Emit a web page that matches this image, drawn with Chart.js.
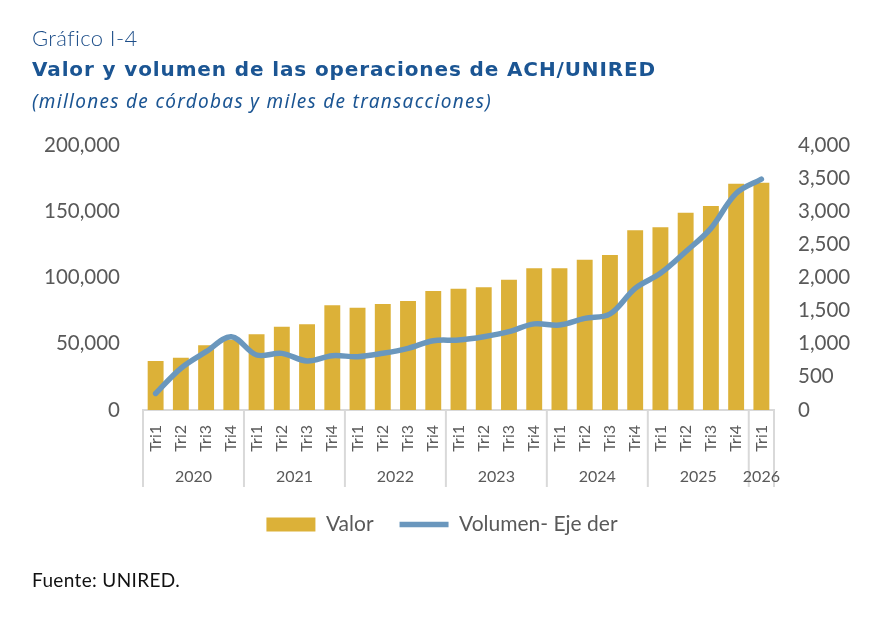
<!DOCTYPE html>
<html>
<head>
<meta charset="utf-8">
<script src="https://cdn.jsdelivr.net/npm/chart.js@4.4.1/dist/chart.umd.min.js"></script>
<style>
  html, body { margin: 0; padding: 0; background: #ffffff; }
  #wrap { position: relative; width: 884px; height: 626px; overflow: hidden; background: #fff; }
  #chart { position: absolute; left: 0; top: 0; }
  .txt { position: absolute; left: 32px; white-space: nowrap; }
  #t0 { top: 24px; font: 300 22px "Lato", sans-serif; color: #1d4e89; }
  #t1 { top: 57px; font: 700 20px "DejaVu Sans", sans-serif; color: #1b5593; }
  #t2 { top: 88px; font: italic 400 19px "Noto Sans", sans-serif; color: #1b5593; }
  #src { top: 568px; font: 400 19px "Lato", sans-serif; color: #111; }
</style>
</head>
<body>
<div id="wrap">
  <canvas id="chart" width="884" height="626"></canvas>
  <div class="txt" id="t0" data-w="105">Gráfico I-4</div>
  <div class="txt" id="t1" data-w="624">Valor y volumen de las operaciones de ACH/UNIRED</div>
  <div class="txt" id="t2" data-w="460">(millones de córdobas y miles de transacciones)</div>
  <div class="txt" id="src" data-w="148">Fuente: UNIRED.</div>
</div>
<script>
// ---- data ----
const categories = ['Tri1','Tri2','Tri3','Tri4','Tri1','Tri2','Tri3','Tri4','Tri1','Tri2','Tri3','Tri4',
                    'Tri1','Tri2','Tri3','Tri4','Tri1','Tri2','Tri3','Tri4','Tri1','Tri2','Tri3','Tri4','Tri1'];
const categoryYears = ['2020','2020','2020','2020','2021','2021','2021','2021','2022','2022','2022','2022',
                       '2023','2023','2023','2023','2024','2024','2024','2024','2025','2025','2025','2025','2026'];
const valor = [37000, 39500, 48800, 53000, 57100, 62900, 64700, 79000, 77200, 80000, 82300, 89800,
               91500, 92600, 98300, 106900, 106900, 113400, 117000, 135600, 137900, 148900, 154000, 170800, 171500];
const volumen = [250, 630, 880, 1106, 830, 855, 740, 820, 805, 856, 931, 1046,
                 1056, 1106, 1182, 1300, 1283, 1383, 1449, 1836, 2063, 2389, 2742, 3270, 3486];
const leftTicks = [0, 50000, 100000, 150000, 200000];
const rightTicks = [0, 500, 1000, 1500, 2000, 2500, 3000, 3500, 4000];
const seriesNames = ['Valor', 'Volumen- Eje der'];

// fit header texts to their widths
document.querySelectorAll('.txt').forEach(el => {
  const target = +el.dataset.w;
  const w = el.getBoundingClientRect().width;
  const n = el.textContent.length;
  el.style.letterSpacing = ((target - w) / n) + 'px';
});

const grey = '#595959';
const sepColor = '#d9d9d9';

const yearGroups = {
  id: 'yearGroups',
  afterDraw(chart) {
    const xs = chart.scales.x;
    const ca = chart.chartArea;
    const ctx = chart.ctx;
    const n = categories.length;
    const bounds = [xs.left];
    for (let i = 1; i < n; i++) {
      if (categoryYears[i] !== categoryYears[i - 1]) {
        bounds.push((xs.getPixelForValue(i - 1) + xs.getPixelForValue(i)) / 2);
      }
    }
    bounds.push(xs.right);
    ctx.save();
    ctx.strokeStyle = sepColor;
    ctx.lineWidth = 2;
    bounds.forEach(x => {
      ctx.beginPath();
      ctx.moveTo(x, ca.bottom);
      ctx.lineTo(x, ca.bottom + 77);
      ctx.stroke();
    });
    const uniq = [...new Set(categoryYears)];
    ctx.fillStyle = grey;
    ctx.font = '16px Lato, sans-serif';
    ctx.textAlign = 'center';
    ctx.textBaseline = 'middle';
    uniq.forEach((y, k) => {
      const cx = (bounds[k] + bounds[k + 1]) / 2;
      ctx.fillText(y, cx, ca.bottom + 67);
    });
    ctx.restore();
  }
};

new Chart(document.getElementById('chart'), {
  type: 'bar',
  data: {
    labels: categories,
    datasets: [
      {
        type: 'bar',
        label: seriesNames[0],
        data: valor,
        backgroundColor: '#dcb138',
        borderWidth: 0,
        barPercentage: 0.63,
        categoryPercentage: 1,
        yAxisID: 'y',
        order: 2,
        pointStyle: 'rect'
      },
      {
        type: 'line',
        label: seriesNames[1],
        data: volumen,
        borderColor: '#6a97bd',
        backgroundColor: '#6a97bd',
        borderWidth: 5.5,
        borderCapStyle: 'round',
        borderJoinStyle: 'round',
        pointRadius: 0,
        pointHoverRadius: 0,
        tension: 0.35,
        yAxisID: 'y1',
        order: 1,
        pointStyle: 'line'
      }
    ]
  },
  options: {
    responsive: false,
    animation: false,
    devicePixelRatio: 1,
    layout: { padding: { top: 145, left: 0, right: 0, bottom: 81 } },
    plugins: {
      tooltip: { enabled: false },
      legend: {
        position: 'bottom',
        labels: {
          usePointStyle: true,
          pointStyleWidth: 49,
          boxHeight: 14,
          padding: 26,
          color: grey,
          font: { family: 'Lato, sans-serif', size: 21 },
          sort: (a, b) => a.datasetIndex - b.datasetIndex
        }
      }
    },
    scales: {
      x: {
        grid: { display: false, drawTicks: false },
        border: { display: true, color: sepColor, width: 2 },
        ticks: {
          autoSkip: false,
          minRotation: 90,
          maxRotation: 90,
          padding: 15,
          color: grey,
          font: { family: 'Lato, sans-serif', size: 16 }
        },
        afterFit(s) { s.height = 78; }
      },
      y: {
        position: 'left',
        min: 0, max: 200000,
        afterBuildTicks(s) { s.ticks = leftTicks.map(v => ({ value: v })); },
        grid: { display: false, drawTicks: false },
        border: { display: false },
        ticks: {
          padding: 23,
          color: grey,
          font: { family: 'Lato, sans-serif', size: 20.5 },
          callback: v => v.toLocaleString('en-US')
        },
        afterFit(s) { s.width = 143; }
      },
      y1: {
        position: 'right',
        min: 0, max: 4000,
        afterBuildTicks(s) { s.ticks = rightTicks.map(v => ({ value: v })); },
        grid: { display: false, drawTicks: false },
        border: { display: false },
        ticks: {
          padding: 24,
          color: grey,
          font: { family: 'Lato, sans-serif', size: 20.5 },
          callback: v => v.toLocaleString('en-US')
        },
        afterFit(s) { s.width = 110; }
      }
    }
  },
  plugins: [yearGroups]
});
</script>
</body>
</html>
